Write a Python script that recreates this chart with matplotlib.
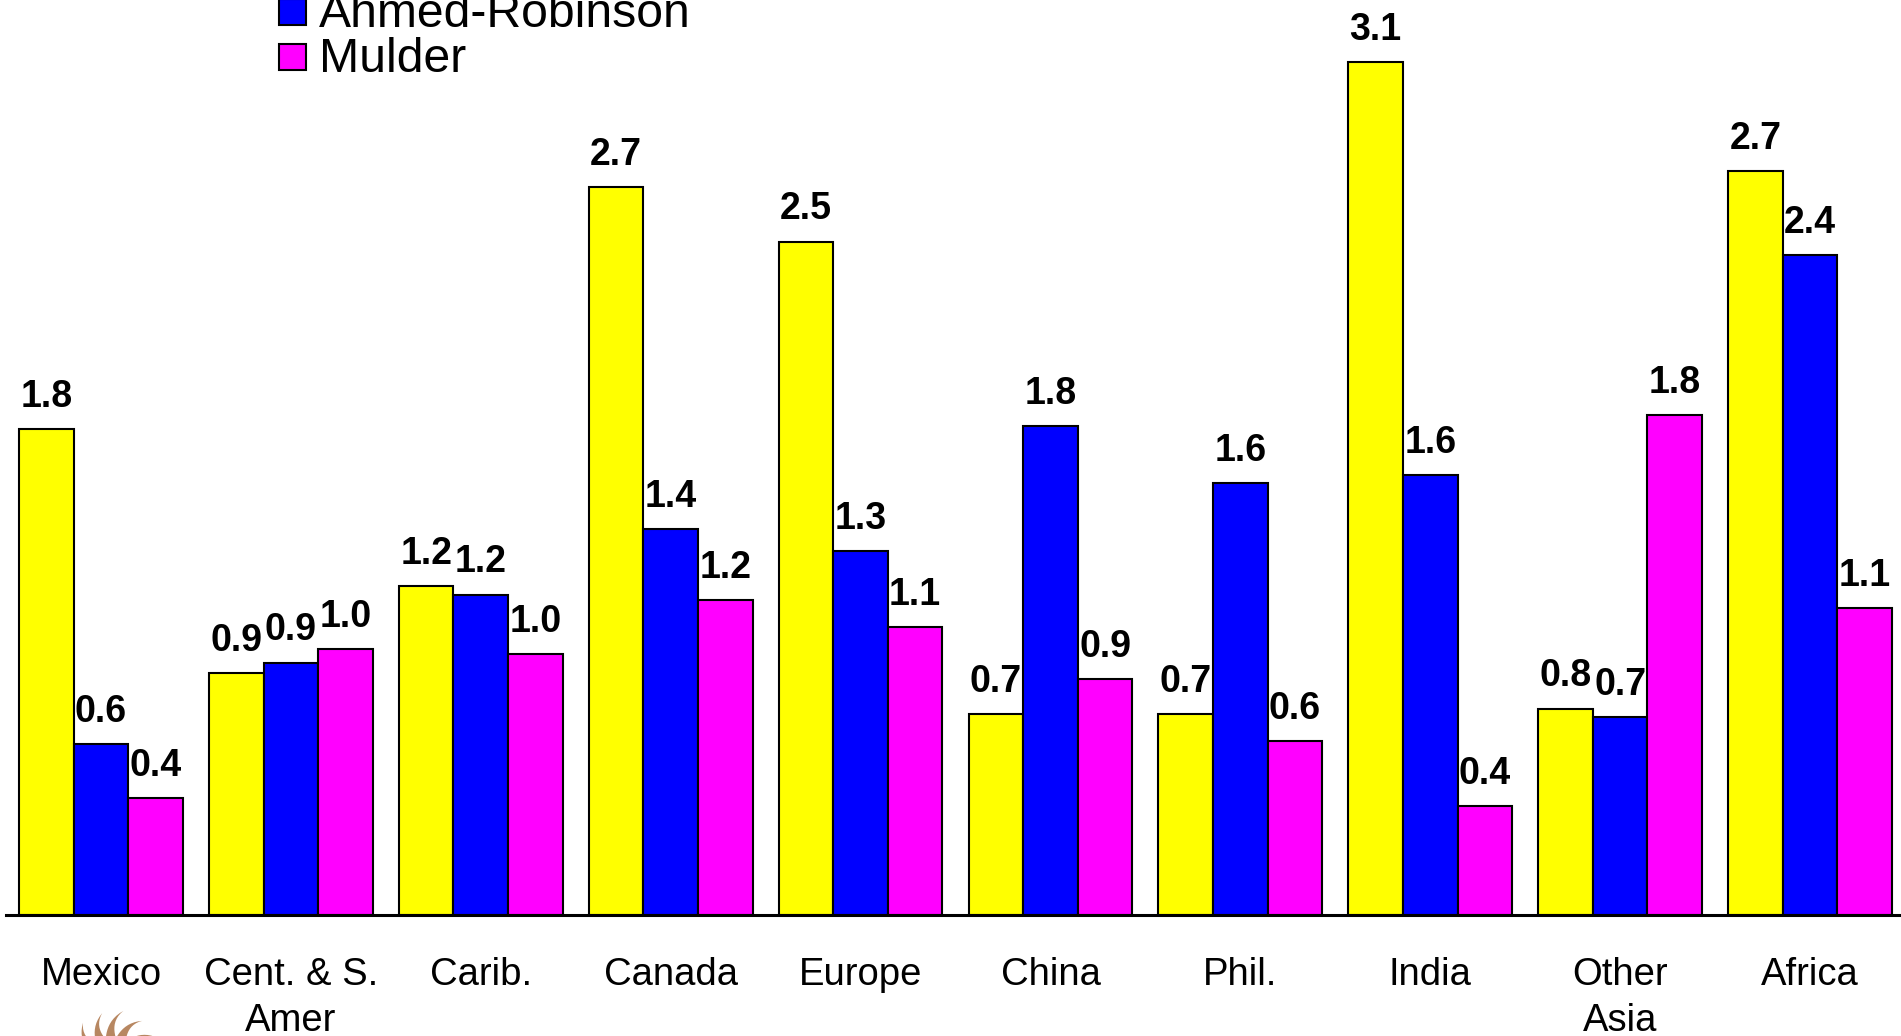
import matplotlib
matplotlib.use("Agg")
import matplotlib.pyplot as plt
import numpy as np
from matplotlib.patches import Rectangle, Polygon

# ---- data ----
categories = ["Mexico", "Cent. & S.\nAmer", "Carib.", "Canada", "Europe",
              "China", "Phil.", "India", "Other\nAsia", "Africa"]
legend_names = ["Ahmed-Robinson", "Mulder"]
yellow_vals = [1.79, 0.89, 1.21, 2.68, 2.48, 0.74, 0.74, 3.14, 0.76, 2.74]
blue_vals = [0.63, 0.93, 1.18, 1.42, 1.34, 1.80, 1.59, 1.62, 0.73, 2.43]
magenta_vals = [0.43, 0.98, 0.96, 1.16, 1.06, 0.87, 0.64, 0.40, 1.84, 1.13]
colors = ["#FFFF00", "#0000FF", "#FF00FF"]

W, H = 1901, 1036
fig = plt.figure(figsize=(W / 100, H / 100), dpi=100)
fig.patch.set_facecolor("white")

base_px = 121          # baseline distance from bottom (px)
ax = fig.add_axes([6 / W, base_px / H, 1 - 6 / W, (H - base_px) / H])
px_per_unit = 271.5
ax.set_ylim(0, (H - base_px) / px_per_unit)
ax.set_xlim(-0.5, 9.479)

x = np.arange(len(categories))
bw = 0.2875
series = [yellow_vals, blue_vals, magenta_vals]
for k, (vals, col) in enumerate(zip(series, colors)):
    pos = x + (k - 1) * bw
    ax.bar(pos, vals, bw, color=col, edgecolor="black", linewidth=1.5,
           zorder=3)
    for xi, v in zip(pos, vals):
        ax.annotate(f"{v:.1f}", (xi, v), xytext=(0, 16),
                    textcoords="offset points", ha="center", va="baseline",
                    fontsize=27, fontweight="bold", family="Liberation Sans",
                    annotation_clip=False)

for s in ["left", "right", "top"]:
    ax.spines[s].set_visible(False)
ax.spines["bottom"].set_linewidth(2.2)
ax.spines["bottom"].set_zorder(4)
ax.set_yticks([])
ax.set_xticks(x)
ax.set_xticklabels(categories, fontsize=27.5, family="Liberation Sans",
                   linespacing=1.38)
ax.tick_params(axis="x", length=0, pad=30)

# ---- legend (drawn manually, top partially clipped by figure edge as in the source) ----
leg_rows_y = [12, 57]   # centre of each row, px from top
for name, col, yc in zip(legend_names, colors[1:], leg_rows_y):
    fig.add_artist(Rectangle(((279) / W, 1 - (yc + 13) / H), 27 / W, 26 / H,
                             transform=fig.transFigure, facecolor=col,
                             edgecolor="black", linewidth=1.5))
    fig.text(319 / W, 1 - (yc + 15) / H, name, fontsize=34.7,
             family="Liberation Sans", ha="left", va="baseline")

# ---- decorative logo fragment at bottom left ----
cx, cy = 113, 1064
for ang, r1, wd in [(-75, 50, 9), (-52, 51, 10), (-28, 52, 10), (-5, 54, 10),
                    (18, 52, 10), (41, 50, 9), (64, 49, 9)]:
    t = np.radians(ang)
    pts_l, pts_r = [], []
    n = 10
    for i in range(n + 1):
        f = i / n
        r = 26 + (r1 - 26) * f
        a = t + np.radians(16) * f ** 2
        px = cx + r * np.sin(a)
        py = cy - r * np.cos(a)
        w = wd * (1 - f) * 0.5
        nx, ny = np.cos(a), np.sin(a)
        pts_l.append((px - w * nx, py - w * ny))
        pts_r.append((px + w * nx, py + w * ny))
    poly = pts_l + pts_r[::-1]
    poly = [(p[0] / W, 1 - p[1] / H) for p in poly]
    fig.add_artist(Polygon(poly, closed=True, transform=fig.transFigure,
                           facecolor="#B07A50", edgecolor="none", alpha=0.9))

fig.savefig("out.png", dpi=100, facecolor="white")
